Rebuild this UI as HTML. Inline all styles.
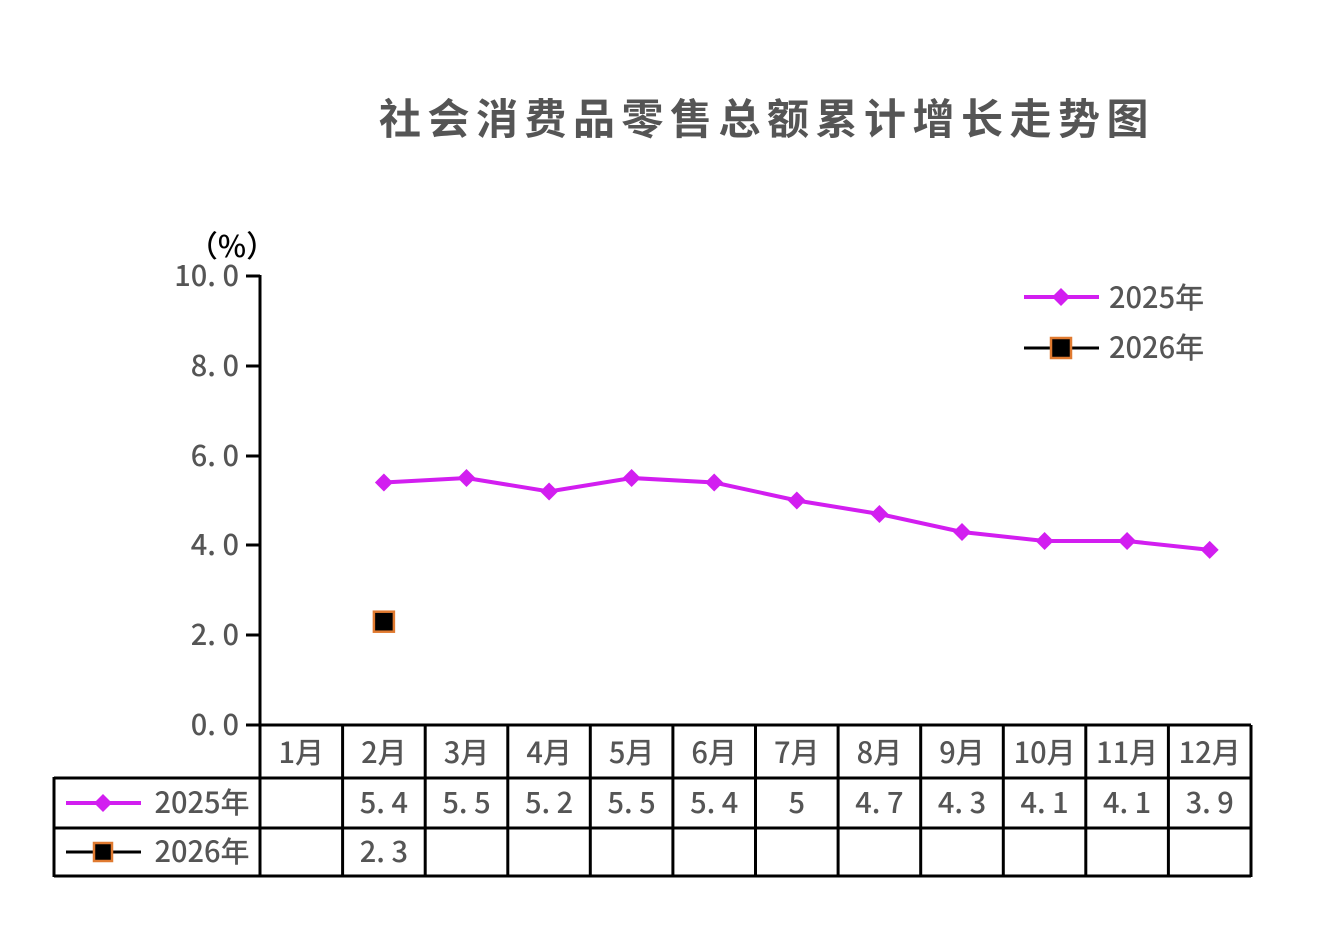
<!DOCTYPE html>
<html><head><meta charset="utf-8"><style>
html,body{margin:0;padding:0;background:#fff;}
svg text{font-family:"Noto Sans CJK SC","Liberation Sans",sans-serif;fill:#555;font-weight:500;}
</style></head><body>
<svg width="1331" height="935" viewBox="0 0 1331 935" xmlns="http://www.w3.org/2000/svg">
<text x="767" y="134" font-size="42" text-anchor="middle" letter-spacing="6.5" style="font-weight:bold">社会消费品零售总额累计增长走势图</text>
<text x="232" y="257" font-size="30" text-anchor="middle" style="fill:#000">（%）</text>
<g font-size="29" text-anchor="end">
<text x="239" y="286">10. 0</text>
<text x="239" y="376">8. 0</text>
<text x="239" y="466">6. 0</text>
<text x="239" y="555">4. 0</text>
<text x="239" y="645">2. 0</text>
<text x="239" y="735">0. 0</text>
</g>
<g stroke="#000" stroke-width="3" fill="none">
<line x1="260" y1="275" x2="260" y2="877"/>
<line x1="246" y1="276" x2="260" y2="276"/>
<line x1="246" y1="366" x2="260" y2="366"/>
<line x1="246" y1="456" x2="260" y2="456"/>
<line x1="246" y1="545" x2="260" y2="545"/>
<line x1="246" y1="635" x2="260" y2="635"/>
<line x1="246" y1="725" x2="1251" y2="725"/>
<line x1="54" y1="778" x2="1251" y2="778"/>
<line x1="54" y1="828" x2="1251" y2="828"/>
<line x1="54" y1="876" x2="1251" y2="876"/>
<line x1="54" y1="777" x2="54" y2="877"/>
<line x1="342.6" y1="725" x2="342.6" y2="877"/>
<line x1="425.2" y1="725" x2="425.2" y2="877"/>
<line x1="507.8" y1="725" x2="507.8" y2="877"/>
<line x1="590.3" y1="725" x2="590.3" y2="877"/>
<line x1="672.9" y1="725" x2="672.9" y2="877"/>
<line x1="755.5" y1="725" x2="755.5" y2="877"/>
<line x1="838.1" y1="725" x2="838.1" y2="877"/>
<line x1="920.7" y1="725" x2="920.7" y2="877"/>
<line x1="1003.3" y1="725" x2="1003.3" y2="877"/>
<line x1="1085.8" y1="725" x2="1085.8" y2="877"/>
<line x1="1168.4" y1="725" x2="1168.4" y2="877"/>
<line x1="1251" y1="725" x2="1251" y2="877"/>
</g>
<g font-size="29" text-anchor="middle">
<text x="301.3" y="763">1月</text><text x="383.9" y="763">2月</text><text x="466.5" y="763">3月</text><text x="549.1" y="763">4月</text><text x="631.6" y="763">5月</text><text x="714.2" y="763">6月</text><text x="796.8" y="763">7月</text><text x="879.4" y="763">8月</text><text x="962" y="763">9月</text><text x="1044.6" y="763">10月</text><text x="1127.1" y="763">11月</text><text x="1209.7" y="763">12月</text>
<text x="383.9" y="813">5. 4</text><text x="466.5" y="813">5. 5</text><text x="549.1" y="813">5. 2</text><text x="631.6" y="813">5. 5</text><text x="714.2" y="813">5. 4</text><text x="796.8" y="813">5</text><text x="879.4" y="813">4. 7</text><text x="962" y="813">4. 3</text><text x="1044.6" y="813">4. 1</text><text x="1127.1" y="813">4. 1</text><text x="1209.7" y="813">3. 9</text>
<text x="383.9" y="862">2. 3</text>
<text x="202" y="813">2025年</text>
<text x="202" y="862">2026年</text>
</g>
<polyline fill="none" stroke="#d21ef0" stroke-width="4" points="383.9,482.5 466.5,478 549.1,491.5 631.6,478 714.2,482.5 796.8,500.5 879.4,514 962,532 1044.6,541 1127.1,541 1209.7,549.9"/>
<g fill="#d21ef0">
<polygon points="383.9,473.5 392.9,482.5 383.9,491.5 374.9,482.5"/>
<polygon points="466.5,469 475.5,478 466.5,487 457.5,478"/>
<polygon points="549.1,482.5 558.1,491.5 549.1,500.5 540.1,491.5"/>
<polygon points="631.6,469 640.6,478 631.6,487 622.6,478"/>
<polygon points="714.2,473.5 723.2,482.5 714.2,491.5 705.2,482.5"/>
<polygon points="796.8,491.5 805.8,500.5 796.8,509.5 787.8,500.5"/>
<polygon points="879.4,505 888.4,514 879.4,523 870.4,514"/>
<polygon points="962,523 971,532 962,541 953,532"/>
<polygon points="1044.6,532 1053.6,541 1044.6,550 1035.6,541"/>
<polygon points="1127.1,532 1136.1,541 1127.1,550 1118.1,541"/>
<polygon points="1209.7,540.9 1218.7,549.9 1209.7,558.9 1200.7,549.9"/>
</g>
<rect x="373.9" y="611.7" width="20" height="20" fill="#000" stroke="#e07a30" stroke-width="2.5"/>
<line x1="1024" y1="297" x2="1099" y2="297" stroke="#d21ef0" stroke-width="4"/>
<polygon points="1061,288 1070,297 1061,306 1052,297" fill="#d21ef0"/>
<text x="1109" y="308" font-size="29">2025年</text>
<line x1="1024" y1="348" x2="1099" y2="348" stroke="#000" stroke-width="3"/>
<rect x="1051" y="338" width="20" height="20" fill="#000" stroke="#e07a30" stroke-width="2.5"/>
<text x="1109" y="358" font-size="29">2026年</text>
<line x1="66" y1="803" x2="141" y2="803" stroke="#d21ef0" stroke-width="4"/>
<polygon points="103,794 112,803 103,812 94,803" fill="#d21ef0"/>
<line x1="66" y1="852" x2="141" y2="852" stroke="#000" stroke-width="3"/>
<rect x="94" y="843" width="18" height="18" fill="#000" stroke="#e07a30" stroke-width="2.5"/>
</svg>
</body></html>
